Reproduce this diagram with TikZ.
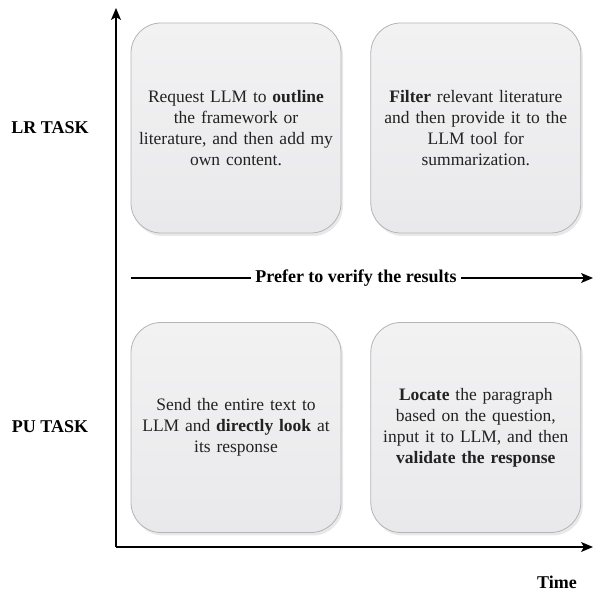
\documentclass[tikz,border=0pt]{standalone}
\usepackage{fontspec}
\setmainfont{Liberation Serif}
\usetikzlibrary{positioning, shadows, arrows.meta}

\definecolor{boxline}{HTML}{B4B4B8}
\definecolor{boxtop}{HTML}{F2F2F3}
\definecolor{boxbot}{HTML}{E9E9EB}
\definecolor{inktext}{HTML}{222222}

\tikzset{
    taskbox/.style={draw=boxline, line width=0.8pt, rounded corners=30pt,
        top color=boxtop, bottom color=boxbot,
        minimum width=210pt, minimum height=210pt,
        text width=200pt, align=center, text=inktext,
        font=\fontsize{17.5}{21}\selectfont,
        drop shadow={opacity=0.18, shadow xshift=2pt, shadow yshift=-3pt}},
    axislabel/.style={font=\fontsize{18}{21}\selectfont\bfseries, text=black},
    axisline/.style={line width=1.2pt, -{Stealth[length=12pt,width=10pt,inset=3pt]}}
}

\begin{document}
\begin{tikzpicture}[x=1pt, y=1pt]
    \useasboundingbox (0,0) rectangle (593,594);

    % axes
    \coordinate (origin) at (116,47);
    \coordinate (ytip) at (116,586);
    \coordinate (xtip) at (593,47);
    \draw[axisline] (origin) -- (ytip); % task axis
    \draw[axisline] (origin) -- (xtip); % time axis

    % axis labels
    \node[axislabel] (lr) at (50,466) {LR TASK};
    \node[axislabel] (pu) at (50,167) {PU TASK};
    \node[axislabel] (time) at (557,12) {Time};

    % the four quadrants
    \node[taskbox] (outline) at (236,466) {Request LLM to \textbf{outline}\\ the framework or\\ literature, and then add my\\ own content.};
    \node[taskbox, right=29pt of outline] (filter) {\textbf{Filter} relevant literature\\ and then provide it to the\\ LLM tool for\\ summarization.};
    \node[taskbox] (direct) at (236,166.5) {Send the entire text to\\ LLM and \textbf{directly look} at\\ its response};
    \node[taskbox, right=29pt of direct] (locate) {\textbf{Locate} the paragraph\\ based on the question,\\ input it to LLM, and then\\ \textbf{validate the response}};

    % divider arrow
    \node[axislabel, inner xsep=4pt] (verify) at (356,316) {Prefer to verify the results};
    \coordinate (vstart) at (131,316);
    \coordinate (vend) at (593,316);
    \draw[line width=1.2pt] (vstart) -- (verify.west);
    \draw[axisline] (verify.east) -- (vend);
\end{tikzpicture}
\end{document}
